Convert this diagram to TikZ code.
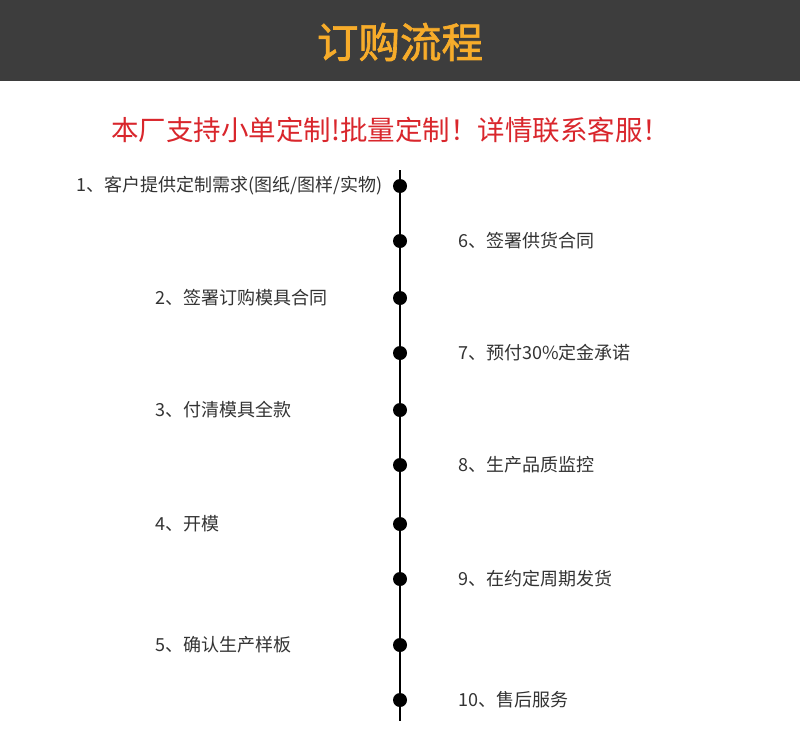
\documentclass[tikz,border=0pt]{standalone}
\usepackage{fontspec}
\setmainfont{Noto Sans CJK SC}
\newfontfamily\cjk[AutoFakeBold=1.6]{Noto Sans CJK SC}
\definecolor{hdr}{RGB}{61,61,61}
\definecolor{ttl}{RGB}{247,172,42}
\definecolor{sub}{RGB}{217,38,44}
\definecolor{txt}{RGB}{51,51,51}
\tikzset{
  dotnode/.style={circle,fill=black,inner sep=0pt,minimum size=14pt},
  itemL/.style={anchor=west,inner sep=0pt,text=txt,font=\cjk\fontsize{18}{21}\selectfont},
  itemR/.style={anchor=west,inner sep=0pt,text=txt,font=\cjk\fontsize{18}{21}\selectfont},
}
\begin{document}
\begin{tikzpicture}[x=1pt,y=-1pt]
\useasboundingbox (0,0) rectangle (800,736);
\fill[white] (0,0) rectangle (800,736);
\fill[hdr] (0,0) rectangle (800,81);
\node[text=ttl,font=\cjk\fontsize{41.5}{46}\selectfont\bfseries,inner sep=0pt] (title) at (400,42) {订购流程};
\node[text=sub,font=\cjk\fontsize{27.5}{31}\selectfont,anchor=west,inner sep=0pt] (subtitle) at (111,130) {本厂支持小单定制!批量定制！详情联系客服！};
\coordinate (top) at (400,170);
\coordinate (bot) at (400,721);
\draw[line width=1.6pt,black] (top) -- (bot);
\foreach \n/\y in {1/186,6/241,2/298,7/353,3/410,8/465,4/524,9/579,5/645,10/700}{
  \node[dotnode] (d\n) at (400,\y) {};
}
\node[itemL] (t1) at (76,186) {1、客户提供定制需求(图纸/图样/实物)};
\node[itemL] (t2) at (155,298) {2、签署订购模具合同};
\node[itemL] (t3) at (155,410) {3、付清模具全款};
\node[itemL] (t4) at (155,524) {4、开模};
\node[itemL] (t5) at (155,645) {5、确认生产样板};
\node[itemR] (t6) at (458,241) {6、签署供货合同};
\node[itemR] (t7) at (458,353) {7、预付30\%定金承诺};
\node[itemR] (t8) at (458,465) {8、生产品质监控};
\node[itemR] (t9) at (458,579) {9、在约定周期发货};
\node[itemR] (t10) at (458,700) {10、售后服务};
\end{tikzpicture}
\end{document}
